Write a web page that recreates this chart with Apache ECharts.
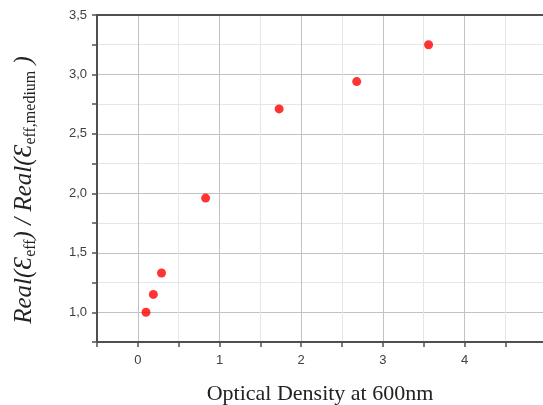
<!DOCTYPE html>
<html><head><meta charset="utf-8">
<script src="https://cdn.jsdelivr.net/npm/echarts@6/dist/echarts.min.js"></script>
<style>html,body{margin:0;padding:0;background:#fff}#c{width:543px;height:405px}</style>
</head><body><div id="c"></div>
<script>
const odValues = [0.10, 0.19, 0.29, 0.83, 1.73, 2.68, 3.56];
const ratioValues = [1.00, 1.15, 1.33, 1.96, 2.71, 2.94, 3.25];
const xTickLabels = ['0','1','2','3','4','5'];
const yTickLabels = ['1,0','1,5','2,0','2,5','3,0','3,5'];

const points = odValues.map((x, i) => [x, ratioValues[i]]);
const chart = echarts.init(document.getElementById('c'), null, {renderer: 'canvas'});
const minorC = '#e6e6e6', majorC = '#c2c2c2', axisC = '#505050';
chart.setOption({
  animation: false,
  backgroundColor: '#fff',
  grid: {left: 97, top: 15, right: -44, bottom: 63, outerBoundsMode: 'none', containLabel: false},
  xAxis: [{
    type: 'value', min: -0.5, max: 5.5, interval: 0.5,
    name: 'Optical Density at 600nm', nameLocation: 'middle', nameGap: 41,
    nameTextStyle: {fontFamily: 'Liberation Serif', fontSize: 22, color: '#222', padding: [0, 44, 0, 0]},
    axisLine: {show: true, onZero: false, lineStyle: {color: axisC, width: 2}},
    axisTick: {show: true, inside: false, length: 5, lineStyle: {color: axisC, width: 1.5}},
    axisLabel: {
      margin: 12, fontFamily: 'Liberation Sans', fontSize: 13, color: '#404040',
      formatter: v => { const r = Math.round(v); return Math.abs(v - r) < 1e-6 && xTickLabels.indexOf(String(r)) >= 0 ? String(r) : ''; }
    },
    splitLine: {show: true, lineStyle: {color: [minorC, majorC], width: 1}}
  }, {
    type: 'value', position: 'top', min: -0.5, max: 5.5, interval: 0.5,
    axisLine: {show: true, onZero: false, lineStyle: {color: axisC, width: 2}},
    axisTick: {show: false}, axisLabel: {show: false}, splitLine: {show: false}
  }],
  yAxis: {
    type: 'value', min: 0.75, max: 3.5, interval: 0.25,
    name: '{i|Real(}{e|Ɛ}{s|eff}{i|) / Real(}{e|Ɛ}{s|eff,medium}{i| )}',
    nameLocation: 'middle', nameRotate: 90, nameGap: 58,
    nameTextStyle: {
      padding: [0, 23, 0, 0],
      rich: {
        i: {fontFamily: 'Liberation Serif', fontStyle: 'italic', fontSize: 25, color: '#222', lineHeight: 30},
        e: {fontFamily: 'Liberation Serif', fontStyle: 'italic', fontSize: 26, color: '#222', lineHeight: 30},
        s: {fontFamily: 'Liberation Serif', fontSize: 16, color: '#222', lineHeight: 16, verticalAlign: 'bottom'}
      }
    },
    axisLine: {show: true, onZero: false, lineStyle: {color: axisC, width: 2}},
    axisTick: {show: true, inside: false, length: 5, lineStyle: {color: axisC, width: 1.5}},
    axisLabel: {
      margin: 10, fontFamily: 'Liberation Sans', fontSize: 13, color: '#404040',
      formatter: v => { const r = Math.round(v * 2) / 2; if (Math.abs(v - r) > 1e-6) return ''; const s = r.toFixed(1).replace('.', ','); return yTickLabels.indexOf(s) >= 0 ? s : ''; }
    },
    splitLine: {show: true, lineStyle: {color: [minorC, majorC], width: 1}}
  },
  series: [{
    type: 'scatter', data: points, symbol: 'circle', symbolSize: 9,
    itemStyle: {color: '#ff0000'}
  }]
});
</script></body></html>
